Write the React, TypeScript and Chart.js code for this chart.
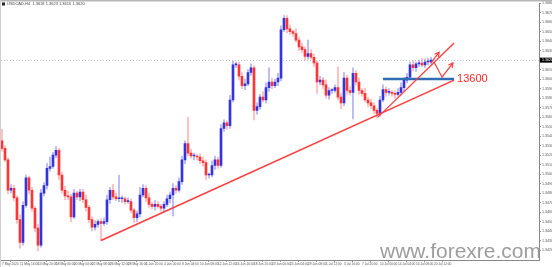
import React, { useEffect, useRef } from "react";
import { Chart, registerables } from "chart.js";

Chart.register(...registerables);

// ---------- data ----------
const symbol = "USDCAD,H4";
const firstOpen = 13535;
const closes = [
  13527, 13515, 13483, 13485, 13475, 13452, 13428, 13467, 13496, 13483,
  13464, 13443, 13425, 13480, 13488, 13506, 13508, 13520, 13525, 13499,
  13483, 13477, 13476, 13455, 13480, 13476, 13481, 13473, 13465, 13452,
  13444, 13447, 13450, 13448, 13450, 13473, 13483, 13476, 13474, 13474,
  13474, 13471, 13471, 13462, 13454, 13458, 13478, 13485, 13475, 13468,
  13466, 13468, 13466, 13464, 13468, 13474, 13478, 13485, 13483, 13492,
  13515, 13532, 13522, 13519, 13519, 13518, 13514, 13512, 13499, 13499,
  13509, 13515, 13509, 13548, 13554, 13551, 13578, 13615, 13615, 13603,
  13593, 13595, 13607, 13612, 13567, 13571, 13581, 13578, 13591, 13597,
  13593, 13597, 13601, 13652, 13664, 13653, 13650, 13648, 13641, 13634,
  13631, 13624, 13627, 13623, 13617, 13597, 13599, 13594, 13583, 13588,
  13588, 13591, 13581, 13575, 13601, 13588, 13586, 13606, 13597, 13588,
  13585, 13578, 13575, 13572, 13567, 13564, 13578, 13589, 13586, 13586,
  13585, 13584, 13586, 13591, 13599, 13602, 13615, 13612, 13616, 13617,
  13615, 13618, 13618, 13620,
];
const wickUp = [
  12, 3, 2, 4, 3, 2, 5, 4, 3, 2,
  3, 2, 4, 4, 3, 5, 10, 3, 4, 2,
  3, 4, 5, 3, 4, 2, 3, 3, 5, 2,
  3, 4, 2, 3, 4, 5, 3, 6, 4, 25,
  3, 2, 4, 3, 2, 3, 8, 4, 3, 5,
  2, 4, 3, 2, 3, 4, 3, 5, 3, 4,
  4, 3, 28, 4, 3, 2, 3, 4, 3, 2,
  5, 4, 3, 4, 3, 2, 5, 4, 3, 3,
  4, 5, 3, 4, 2, 4, 3, 6, 5, 15,
  4, 3, 5, 4, 3, 3, 4, 2, 5, 3,
  4, 3, 14, 4, 3, 2, 4, 3, 5, 3,
  2, 3, 22, 4, 6, 3, 4, 6, 3, 4,
  2, 5, 3, 4, 3, 2, 4, 5, 3, 4,
  2, 3, 4, 5, 3, 4, 3, 4, 2, 3,
  5, 3, 4, 3,
];
const wickDown = [
  3, 2, 4, 3, 3, 4, 6, 3, 2, 4,
  3, 4, 6, 2, 3, 4, 3, 2, 3, 5,
  3, 4, 3, 5, 2, 3, 4, 3, 4, 3,
  4, 3, 3, 18, 2, 3, 4, 3, 2, 3,
  4, 3, 2, 3, 5, 4, 3, 2, 4, 3,
  3, 4, 2, 3, 3, 2, 4, 22, 3, 2,
  3, 4, 3, 2, 4, 3, 3, 4, 5, 3,
  2, 4, 3, 2, 3, 4, 3, 2, 3, 4,
  3, 4, 2, 3, 10, 4, 3, 2, 3, 4,
  3, 2, 4, 3, 2, 4, 3, 3, 2, 4,
  3, 4, 3, 2, 4, 12, 3, 4, 3, 4,
  3, 2, 3, 6, 3, 4, 3, 28, 3, 4,
  3, 2, 4, 3, 3, 5, 3, 2, 4, 3,
  3, 4, 2, 3, 4, 3, 2, 3, 4, 3,
  2, 3, 3, 2,
];
const dateLabels = [
  "7 May 2020", "11 May 16:00", "13 May 20:00", "18 May 00:00", "20 May 04:00",
  "22 May 08:00", "26 May 12:00", "28 May 16:00", "1 Jun 20:00", "4 Jun 00:00",
  "8 Jun 04:00", "10 Jun 08:00", "12 Jun 12:00", "16 Jun 16:00", "18 Jun 20:00",
  "23 Jun 00:00", "25 Jun 04:00", "29 Jun 08:00", "1 Jul 12:00", "3 Jul 16:00",
  "7 Jul 20:00", "10 Jul 00:00", "14 Jul 04:00", "16 Jul 08:00", "20 Jul 12:00",
];
const labelEvery = 6;
const xMin = -0.33;
const xMax = 179;
const priceMin = 13409.5;
const priceMax = 13680;
const priceTicks = [
  13420, 13430, 13440, 13450, 13460, 13470, 13480, 13490, 13500, 13510,
  13520, 13530, 13540, 13550, 13560, 13570, 13580, 13590, 13600, 13610,
  13620, 13630, 13640, 13650, 13660, 13670, 13680,
];
const keyLevel = 13600;
const trendLong = [{ x: 33, y: 13430 }, { x: 150.7, y: 13599 }];
const trendShort = [{ x: 125.3, y: 13560 }, { x: 150.7, y: 13638 }];
const levelLine = [{ x: 127, y: keyLevel }, { x: 150.7, y: keyLevel }];
const arrowUp = [{ x: 143, y: 13617 }, { x: 145.7, y: 13628.4 }];
const arrowBounce = [{ x: 144, y: 13618 }, { x: 146.7, y: 13602 }, { x: 150.3, y: 13617 }];
const keyLevelTextAt = 151.7;
const watermark = "www.forexre.com";

// ---------- derived OHLC ----------
const opens = closes.map((c, i) => (i === 0 ? firstOpen : closes[i - 1]));
const highs = closes.map((c, i) => Math.max(c, opens[i]) + wickUp[i]);
const lows = closes.map((c, i) => Math.min(c, opens[i]) - wickDown[i]);
const isUp = closes.map((c, i) => c >= opens[i]);

const fmt = (v: number) => (v / 10000).toFixed(4);

const RED = "#ff3434";
const BLUE = "#3434de";
const RED_W = "rgba(255,90,90,0.45)";
const BLUE_W = "rgba(80,80,230,0.45)";
const LINE_RED = "#ff3b3b";
const LEVEL_BLUE = "#2e6cb4";
const FONT = "'Liberation Sans', Arial, sans-serif";

const extras = {
  id: "extras",
  beforeDatasetsDraw(chart: any) {
    const { ctx, chartArea, scales } = chart;
    const y = Math.round(scales.y.getPixelForValue(closes[closes.length - 1])) + 0.5;
    ctx.save();
    ctx.strokeStyle = "#c4c4c4";
    ctx.lineWidth = 1;
    ctx.setLineDash([1, 2]);
    ctx.beginPath();
    ctx.moveTo(chartArea.left, y);
    ctx.lineTo(chartArea.right, y);
    ctx.stroke();
    ctx.restore();
  },
  afterDatasetsDraw(chart: any) {
    const { ctx } = chart;
    const heads = ["arrowUp", "arrowBounce"];
    chart.data.datasets.forEach((ds: any, i: number) => {
      if (!heads.includes(ds.label)) return;
      const pts = chart.getDatasetMeta(i).data;
      const a = pts[pts.length - 2];
      const b = pts[pts.length - 1];
      const ang = Math.atan2(b.y - a.y, b.x - a.x);
      const L = 5;
      ctx.save();
      ctx.strokeStyle = LINE_RED;
      ctx.lineWidth = 1.2;
      ctx.beginPath();
      ctx.moveTo(b.x - L * Math.cos(ang - 0.5), b.y - L * Math.sin(ang - 0.5));
      ctx.lineTo(b.x, b.y);
      ctx.lineTo(b.x - L * Math.cos(ang + 0.5), b.y - L * Math.sin(ang + 0.5));
      ctx.stroke();
      ctx.restore();
    });
  },
  afterDraw(chart: any) {
    const { ctx, chartArea, scales, width, height } = chart;
    ctx.save();
    // frame
    ctx.fillStyle = "#b8b8b8";
    ctx.fillRect(0, 0, width, 1.5);
    ctx.fillStyle = "#d0d0d0";
    ctx.fillRect(0, 0, 1, height);
    // current price box
    const last = closes.length - 1;
    const cy = scales.y.getPixelForValue(closes[last]);
    ctx.fillStyle = "#000";
    ctx.fillRect(chartArea.right + 1, cy - 2.5, width - chartArea.right - 1, 5);
    ctx.fillStyle = "#fff";
    ctx.font = `3.6px ${FONT}`;
    ctx.textBaseline = "middle";
    ctx.textAlign = "left";
    ctx.fillText(fmt(closes[last]), chartArea.right + 3, cy);
    // key level text
    ctx.fillStyle = "#ff2a2a";
    ctx.font = `11px ${FONT}`;
    ctx.fillText(String(keyLevel), scales.x.getPixelForValue(keyLevelTextAt), scales.y.getPixelForValue(keyLevel));
    // header
    ctx.fillStyle = "#222";
    ctx.fillRect(2, 2.5, 3, 3);
    ctx.fillStyle = "#444";
    ctx.font = `4px ${FONT}`;
    ctx.fillText(
      `${symbol}  ${fmt(opens[last])} ${fmt(highs[last])} ${fmt(lows[last])} ${fmt(closes[last])}`,
      7, 4
    );
    // watermark
    ctx.fillStyle = "rgba(140,140,140,0.85)";
    ctx.font = `21px ${FONT}`;
    ctx.textAlign = "right";
    ctx.textBaseline = "alphabetic";
    ctx.fillText(watermark, 541, 258);
    ctx.restore();
  },
};

export default function App() {
  const ref = useRef<HTMLCanvasElement | null>(null);
  useEffect(() => {
    if (!ref.current) return;
    const idx = closes.map((_, i) => i);
    const lineDs = (label: string, data: any[], color: string, w: number) => ({
      type: "line" as const,
      label,
      data,
      borderColor: color,
      borderWidth: w,
      pointRadius: 0,
      tension: 0,
      fill: false,
      order: 0,
    });
    const chart = new Chart(ref.current, {
      type: "bar",
      data: {
        datasets: [
          {
            label: "wicks",
            data: idx.map((i) => ({ x: i, y: [lows[i], highs[i]] })) as any,
            backgroundColor: idx.map((i) => (isUp[i] ? BLUE_W : RED_W)),
            barThickness: 1,
            grouped: false,
            borderWidth: 0,
            order: 3,
          } as any,
          {
            label: "bodies",
            data: idx.map((i) => ({ x: i, y: [opens[i], closes[i]] })) as any,
            backgroundColor: idx.map((i) => (isUp[i] ? BLUE : RED)),
            barThickness: 2,
            minBarLength: 1,
            grouped: false,
            borderWidth: 0,
            order: 2,
          } as any,
          lineDs("trendLong", trendLong, LINE_RED, 1.5),
          lineDs("trendShort", trendShort, LINE_RED, 1.3),
          lineDs("level", levelLine, LEVEL_BLUE, 2.5),
          lineDs("arrowUp", arrowUp, LINE_RED, 1.2),
          lineDs("arrowBounce", arrowBounce, LINE_RED, 1.2),
        ] as any,
      },
      options: {
        responsive: false,
        animation: false,
        devicePixelRatio: 1,
        layout: { padding: { top: 3, left: 1, right: 0, bottom: 0 } },
        plugins: { legend: { display: false }, tooltip: { enabled: false } },
        events: [],
        scales: {
          x: {
            type: "linear",
            min: xMin,
            max: xMax,
            offset: false,
            afterBuildTicks: (s: any) => {
              s.ticks = dateLabels.map((_, i) => ({ value: i * labelEvery }));
            },
            afterFit: (s: any) => {
              s.height = 7;
            },
            ticks: {
              autoSkip: false,
              maxRotation: 0,
              minRotation: 0,
              align: "start",
              padding: 0,
              color: "#555",
              font: { size: 3.2, family: FONT },
              callback: (v: any) => dateLabels[Math.round(Number(v) / labelEvery)] ?? "",
            },
            grid: { drawOnChartArea: false, drawTicks: true, tickLength: 2, color: "#999" },
            border: { display: true, color: "#888" },
          },
          y: {
            type: "linear",
            position: "right",
            min: priceMin,
            max: priceMax,
            afterBuildTicks: (s: any) => {
              s.ticks = priceTicks.map((v) => ({ value: v }));
            },
            afterFit: (s: any) => {
              s.width = 13;
            },
            ticks: {
              autoSkip: false,
              padding: 1,
              color: "#555",
              font: { size: 3.6, family: FONT },
              callback: (v: any) => fmt(Number(v)),
            },
            grid: { drawOnChartArea: false, drawTicks: true, tickLength: 2, color: "#999" },
            border: { display: true, color: "#888" },
          },
        },
      } as any,
      plugins: [extras],
    });
    return () => chart.destroy();
  }, []);
  return (
    <canvas
      ref={ref}
      width={552}
      height={267}
      style={{ position: "fixed", left: 0, top: 0, width: 552, height: 267, background: "#fff" }}
    />
  );
}
